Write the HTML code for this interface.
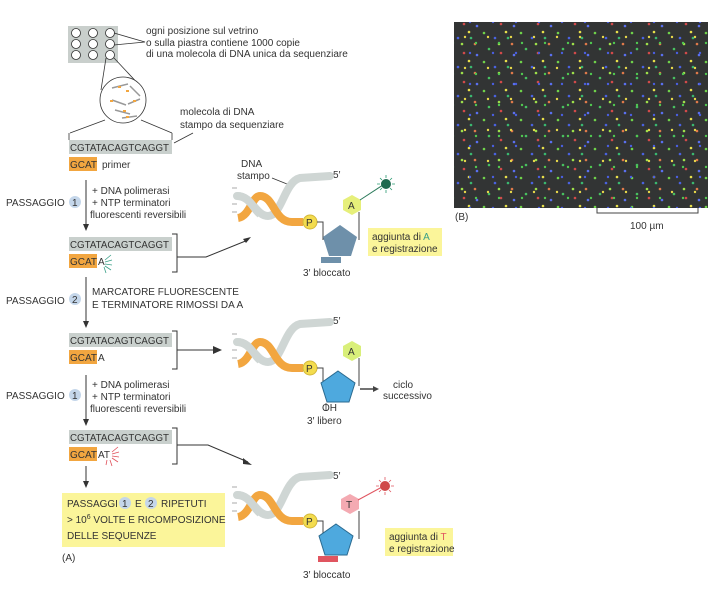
<!DOCTYPE html>
<html><head><meta charset="utf-8"><style>
html,body{margin:0;padding:0;background:#fff;}
svg{display:block;font-family:"Liberation Sans",sans-serif;}
text{font-size:10px;fill:#333;}
</style></head><body>
<svg width="717" height="594" viewBox="0 0 717 594" xmlns="http://www.w3.org/2000/svg">
<defs>
<pattern id="d1" width="37" height="29" patternUnits="userSpaceOnUse">
<circle cx="3" cy="4" r="1.3" fill="#6fd24a"/><circle cx="14" cy="9" r="1.3" fill="#4a62e0"/>
<circle cx="25" cy="3" r="1.3" fill="#e8e04a"/><circle cx="31" cy="15" r="1.3" fill="#e07a4a"/>
<circle cx="8" cy="20" r="1.3" fill="#48c060"/><circle cx="20" cy="24" r="1.3" fill="#d24a4a"/>
<circle cx="33" cy="26" r="1.3" fill="#5a70f0"/><circle cx="18" cy="15" r="1.3" fill="#9ee04a"/>
<circle cx="27" cy="9" r="1.3" fill="#3ab870"/>
</pattern>
<pattern id="d2" width="23" height="31" patternUnits="userSpaceOnUse">
<circle cx="5" cy="6" r="1.2" fill="#e8d84a"/><circle cx="16" cy="12" r="1.2" fill="#50c850"/>
<circle cx="10" cy="22" r="1.2" fill="#4a5ee0"/>
</pattern>
<g id="helix">
<path d="M237,196 C252,196 256,216 268,216 C282,216 284,182 300,178 L330,176" fill="none" stroke="#cfd6d4" stroke-width="8" stroke-linecap="round"/>
<path d="M238,218 C250,216 252,196 260,196 C274,196 274,222 292,222 L303,222" fill="none" stroke="#f2a640" stroke-width="8" stroke-linecap="butt"/>
<path d="M237,196 C250,196 254,210 260,214" fill="none" stroke="#cfd6d4" stroke-width="8"/>
<path d="M232,188 h5 M232,204 h5 M232,212 h5" stroke="#aaa" stroke-width="1"/>
<circle cx="310" cy="222" r="7" fill="#f3dc4e" stroke="#d4b83a"/>
<text x="306" y="226" font-size="10">P</text>
<path d="M317,222 h6 v18 M359,212 v28" stroke="#444" stroke-width="1" fill="none"/>
</g>
</defs>
<!-- panel B -->
<rect x="454" y="22" width="254" height="186" fill="#323434"/>
<rect x="454" y="22" width="254" height="186" fill="url(#d1)"/>
<rect x="454" y="22" width="254" height="186" fill="url(#d2)"/>
<text x="455" y="220">(B)</text>
<path d="M597,208 v5 h101 v-5" stroke="#444" fill="none"/>
<text x="630" y="229">100 µm</text>

<!-- slide -->
<rect x="68" y="26" width="50" height="37" fill="#c9cfcc"/>
<g fill="#fff" stroke="#333" stroke-width="0.8">
<circle cx="76" cy="33" r="4.5"/><circle cx="93" cy="33" r="4.5"/><circle cx="110" cy="33" r="4.5"/>
<circle cx="76" cy="44" r="4.5"/><circle cx="93" cy="44" r="4.5"/><circle cx="110" cy="44" r="4.5"/>
<circle cx="76" cy="55" r="4.5"/><circle cx="93" cy="55" r="4.5"/><circle cx="110" cy="55" r="4.5"/>
</g>
<path d="M114,33 L145,42 L114,45" stroke="#333" fill="none" stroke-width="0.8"/>
<text x="146" y="34">ogni posizione sul vetrino</text>
<text x="146" y="46">o sulla piastra contiene 1000 copie</text>
<text x="146" y="57">di una molecola di DNA unica da sequenziare</text>
<path d="M106,58 L101,90 M114,58 L143,89" stroke="#333" stroke-width="0.8"/>
<circle cx="123" cy="100" r="23" fill="#fff" stroke="#333" stroke-width="0.8"/>
<g stroke="#999" stroke-width="1.5">
<path d="M112,88 L128,84 M130,86 L140,96 M112,100 L126,105 M115,110 L130,114 M128,104 L140,99 M122,118 L137,116"/>
</g>
<g stroke="#f2a640" stroke-width="2"><path d="M118,87 h3 M126,91 h3 M110,101 h3 M123,111 h3 M133,101 h3 M126,117 h3"/></g>
<path d="M105,120 L70,133 M141,120 L172,133 M69,140 V133 M172,140 V133" stroke="#333" stroke-width="0.8" fill="none"/>
<text x="180" y="115">molecola di DNA</text>
<text x="180" y="128">stampo da sequenziare</text>
<path d="M174,143 L193,133" stroke="#333" stroke-width="0.8"/>
<rect x="69" y="140" width="103" height="14" fill="#c9d0cd"/>
<text x="70" y="151" textLength="99" lengthAdjust="spacingAndGlyphs">CGTATACAGTCAGGT</text>
<rect x="69" y="157" width="28" height="14" fill="#f2a640"/>
<text x="70" y="168">GCAT</text><text x="102" y="168">primer</text>

<!-- step 1 -->
<path d="M86,180 V226" stroke="#333"/><path d="M83,224 L86,231 L89,224Z" fill="#333"/>
<text x="6" y="206">PASSAGGIO</text>
<circle cx="75" cy="202" r="6" fill="#c4d6ea"/><text x="72" y="206" fill="#4a6a9a">1</text>
<text x="92" y="194">+ DNA polimerasi</text>
<text x="92" y="206">+ NTP terminatori</text>
<text x="90" y="218">fluorescenti reversibili</text>
<rect x="69" y="237" width="103" height="14" fill="#c9d0cd"/>
<text x="70" y="248" textLength="99" lengthAdjust="spacingAndGlyphs">CGTATACAGTCAGGT</text>
<rect x="69" y="254" width="28" height="14" fill="#f2a640"/>
<text x="70" y="265">GCAT</text><text x="98" y="265" fill="#3aa088">A</text>
<path d="M105,260 l6,-5 M105,262 l7,-2 M105,264 l7,1 M105,266 l6,4 M104,267 l2,6" stroke="#3aa088" stroke-width="0.8"/>
<path d="M172,234 h5 v38 h-5 M177,257 H206 L248,240" stroke="#333" fill="none"/>
<path d="M243,239 L251,237 L246,243Z" fill="#333"/>

<!-- step 2 -->
<path d="M86,277 V323" stroke="#333"/><path d="M83,321 L86,328 L89,321Z" fill="#333"/>
<text x="6" y="304">PASSAGGIO</text>
<circle cx="75" cy="299" r="6" fill="#c4d6ea"/><text x="72" y="303" fill="#4a6a9a">2</text>
<text x="92" y="295">MARCATORE FLUORESCENTE</text>
<text x="92" y="308">E TERMINATORE RIMOSSI DA A</text>
<rect x="69" y="333" width="103" height="14" fill="#c9d0cd"/>
<text x="70" y="344" textLength="99" lengthAdjust="spacingAndGlyphs">CGTATACAGTCAGGT</text>
<rect x="69" y="350" width="28" height="14" fill="#f2a640"/>
<text x="70" y="361">GCAT</text><text x="98" y="361">A</text>
<path d="M172,331 h5 v38 h-5 M177,350 H214" stroke="#333" fill="none"/>
<path d="M213,346 L222,350 L213,354Z" fill="#333"/>

<!-- step 3 -->
<path d="M86,375 V421" stroke="#333"/><path d="M83,419 L86,426 L89,419Z" fill="#333"/>
<text x="6" y="399">PASSAGGIO</text>
<circle cx="75" cy="395" r="6" fill="#c4d6ea"/><text x="72" y="399" fill="#4a6a9a">1</text>
<text x="92" y="388">+ DNA polimerasi</text>
<text x="92" y="400">+ NTP terminatori</text>
<text x="90" y="412">fluorescenti reversibili</text>
<rect x="69" y="430" width="103" height="14" fill="#c9d0cd"/>
<text x="70" y="441" textLength="99" lengthAdjust="spacingAndGlyphs">CGTATACAGTCAGGT</text>
<rect x="69" y="447" width="28" height="14" fill="#f2a640"/>
<text x="70" y="458">GCAT</text><text x="98" y="458">AT</text>
<path d="M112,452 l6,-5 M112,454 l7,-2 M112,456 l7,1 M112,458 l6,4 M110,460 l2,6 M107,460 l-1,5" stroke="#e0505a" stroke-width="0.8"/>
<path d="M172,428 h5 v36 h-5 M177,445 H208 L248,462" stroke="#333" fill="none"/>
<path d="M243,458 L252,465 L243,464Z" fill="#333"/>
<path d="M86,466 V483" stroke="#333"/><path d="M83,481 L86,488 L89,481Z" fill="#333"/>
<rect x="62" y="493" width="163" height="54" fill="#fbf59a"/>
<text x="67" y="507">PASSAGGI</text>
<circle cx="125" cy="503" r="6" fill="#c4d6ea"/><text x="122" y="507" fill="#4a6a9a">1</text>
<text x="135" y="507">E</text>
<circle cx="151" cy="503" r="6" fill="#c4d6ea"/><text x="148" y="507" fill="#4a6a9a">2</text>
<text x="161" y="507">RIPETUTI</text>
<text x="67" y="523">&gt; 10<tspan dy="-4" font-size="7">6</tspan><tspan dy="4"> VOLTE E RICOMPOSIZIONE</tspan></text>
<text x="67" y="539">DELLE SEQUENZE</text>
<text x="62" y="561">(A)</text>

<!-- diagram 1 -->
<text x="241" y="167">DNA</text><text x="237" y="179">stampo</text>
<path d="M272,178 L292,186" stroke="#333" stroke-width="0.8"/>
<text x="333" y="178">5′</text>
<use href="#helix"/>
<polygon points="340,225 357,237 351,256 329,256 323,237" fill="#6e90aa"/>
<rect x="321" y="257" width="20" height="6" fill="#6e90aa"/>
<polygon points="352,195 361,200 361,210 352,215 343,210 343,200" fill="#e6ef7a"/>
<text x="348" y="209" fill="#555">A</text>
<path d="M360,200 L383,185" stroke="#2a7a5a"/>
<circle cx="386" cy="184" r="5" fill="#1f6a50"/>
<g stroke="#2a9a70" stroke-width="0.8"><path d="M386,175 v3 M386,190 v3 M377,184 h3 M392,184 h3 M380,178 l2,2 M390,188 l2,2 M392,178 l-2,2 M380,190 l2,-2"/></g>
<rect x="368" y="228" width="74" height="28" fill="#fbf59a"/>
<text x="372" y="240">aggiunta di <tspan fill="#3aa088">A</tspan></text>
<text x="372" y="252">e registrazione</text>
<text x="303" y="276">3′ bloccato</text>

<!-- diagram 2 -->
<text x="333" y="324">5′</text>
<use href="#helix" transform="translate(0,146)"/>
<polygon points="338,371 355,383 349,402 327,402 321,383" fill="#4ea9de" stroke="#2a6a90"/>
<polygon points="352,341 361,346 361,356 352,361 343,356 343,346" fill="#d9ef7a"/>
<text x="348" y="355" fill="#555">A</text>
<path d="M326,403 v8" stroke="#333" stroke-width="0.8"/>
<text x="322" y="411">OH</text>
<text x="307" y="424">3′ libero</text>
<path d="M360,389 H374" stroke="#444" stroke-width="1.5"/><path d="M373,386 L379,389 L373,392Z" fill="#444"/>
<text x="393" y="388">ciclo</text><text x="383" y="399">successivo</text>

<!-- diagram 3 -->
<text x="333" y="479">5′</text>
<use href="#helix" transform="translate(0,299)"/>
<polygon points="336,524 353,536 347,555 325,555 319,536" fill="#4ea9de" stroke="#2a6a90"/>
<rect x="318" y="556" width="20" height="6" fill="#e05560"/>
<polygon points="350,494 359,499 359,509 350,514 341,509 341,499" fill="#f4aab2"/>
<text x="346" y="508" fill="#888">T</text>
<path d="M358,500 L382,487" stroke="#e05560"/>
<circle cx="385" cy="486" r="5" fill="#d04a4a"/>
<g stroke="#e05560" stroke-width="0.8"><path d="M385,477 v3 M385,492 v3 M376,486 h3 M391,486 h3 M379,480 l2,2 M389,490 l2,2 M391,480 l-2,2 M379,492 l2,-2"/></g>
<rect x="385" y="528" width="68" height="28" fill="#fbf59a"/>
<text x="389" y="540">aggiunta di <tspan fill="#e05560">T</tspan></text>
<text x="389" y="552">e registrazione</text>
<text x="303" y="578">3′ bloccato</text>
</svg>
</body></html>
